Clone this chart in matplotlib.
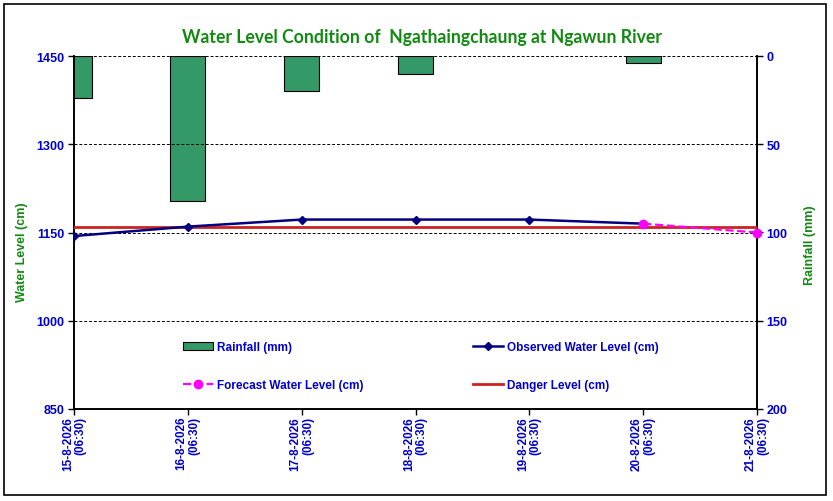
import matplotlib
matplotlib.use('Agg')
import matplotlib.pyplot as plt
import numpy as np

# Data
dates = ['15-8-2026\n(06:30)', '16-8-2026\n(06:30)', '17-8-2026\n(06:30)', '18-8-2026\n(06:30)',
         '19-8-2026\n(06:30)', '20-8-2026\n(06:30)', '21-8-2026\n(06:30)']
rainfall = [24, 82, 20, 10, 0, 4, 0]
observed = [1144, 1160, 1172, 1172, 1172, 1165]
forecast_idx = [5, 6]
forecast = [1165, 1150]
danger_level = 1160

blue = '#0000CC'
green = '#128A12'

fig = plt.figure(figsize=(8.33, 5.02), dpi=100)
fig.patch.set_facecolor('white')

# outer chart border
fig.add_artist(plt.Rectangle((4 / 833, 1 - 496 / 502), 822 / 833, 491 / 502, transform=fig.transFigure,
                             fill=False, edgecolor='black', linewidth=1.2))

ax = fig.add_axes([74 / 833, 1 - 410 / 502, 683 / 833, 353 / 502])
ax2 = ax.twinx()

# rainfall on the secondary axis, drawn behind the water levels
x = np.arange(len(dates))
edges = ['black' if r > 0 else 'none' for r in rainfall]
bars = ax2.bar(x, rainfall, width=0.31, color='#339966', edgecolor=edges, linewidth=0.8,
               label='Rainfall (mm)')
ax2.set_ylim(200, 0)
ax2.set_yticks([0, 50, 100, 150, 200])
ax2.set_facecolor('#CCFFFF')

ax.set_zorder(ax2.get_zorder() + 1)
ax.patch.set_visible(False)

danger = ax.axhline(danger_level, color='#CC2222', linewidth=2, label='Danger Level (cm)', zorder=3)
obs_line, = ax.plot(x[:len(observed)], observed, color='#000080', linewidth=1.8, marker='D',
                    markersize=4.5, label='Observed Water Level (cm)', zorder=4)
fc_line, = ax.plot(forecast_idx, forecast, color='#FF00FF', linewidth=1.6, linestyle='--', marker='o',
                   markersize=6, label='Forecast Water Level (cm)', zorder=5, clip_on=False)

ax.set_xlim(0, 6)
ax.set_ylim(850, 1450)
ax.set_yticks([850, 1000, 1150, 1300, 1450])
ax.grid(axis='y', color='black', linestyle=(0, (3, 2)), linewidth=0.7)
ax.set_axisbelow(True)

ax.set_xticks(x)
ax.set_xticklabels(dates, rotation=90, va='top', ha='center', multialignment='right',
                   fontsize=8.5, fontweight='bold', color=blue, family='Liberation Sans',
                   linespacing=1.05)

for a in (ax, ax2):
    a.spines['top'].set_visible(False)
    for s in ('left', 'right', 'bottom'):
        a.spines[s].set_linewidth(1.2)
    a.tick_params(length=4, width=1, direction='out', pad=3)
    for lab in a.get_yticklabels():
        lab.set_fontsize(9)
        lab.set_fontweight('bold')
        lab.set_color(blue)
        lab.set_family('Liberation Sans')
ax.tick_params(axis='x', pad=1)

# title and axis titles
fig.text(422 / 833, 1 - 38 / 502, 'Water Level Condition of  Ngathaingchaung at Ngawun River',
         ha='center', va='center', fontsize=12.7, fontweight='bold', color=green, family='Lato')
fig.text(22 / 833, 1 - 252 / 502, 'Water Level (cm)', rotation=90, ha='center', va='center',
         fontsize=9, fontweight='bold', color=green, family='Liberation Sans')
fig.text(810 / 833, 1 - 245 / 502, 'Rainfall (mm)', rotation=90, ha='center', va='center',
         fontsize=9, fontweight='bold', color=green, family='Liberation Sans')

# legend in two columns, placed like the reference
leg_kw = dict(frameon=False, loc='upper left', borderpad=0, borderaxespad=0, handlelength=2.5,
              handletextpad=0.35, labelspacing=2.2, bbox_transform=fig.transFigure,
              prop={'family': 'Liberation Sans', 'weight': 'bold', 'size': 8.5})
leg1 = ax.legend([bars, fc_line], ['Rainfall (mm)', 'Forecast Water Level (cm)'],
                 bbox_to_anchor=(183 / 833, 1 - 342 / 502), **leg_kw)
ax.add_artist(leg1)
leg2 = ax.legend([obs_line, danger], ['Observed Water Level (cm)', 'Danger Level (cm)'],
                 bbox_to_anchor=(473 / 833, 1 - 342 / 502), **leg_kw)
for leg in (leg1, leg2):
    for t in leg.get_texts():
        t.set_color(blue)

fig.savefig('out.png', dpi=100, facecolor='white')
